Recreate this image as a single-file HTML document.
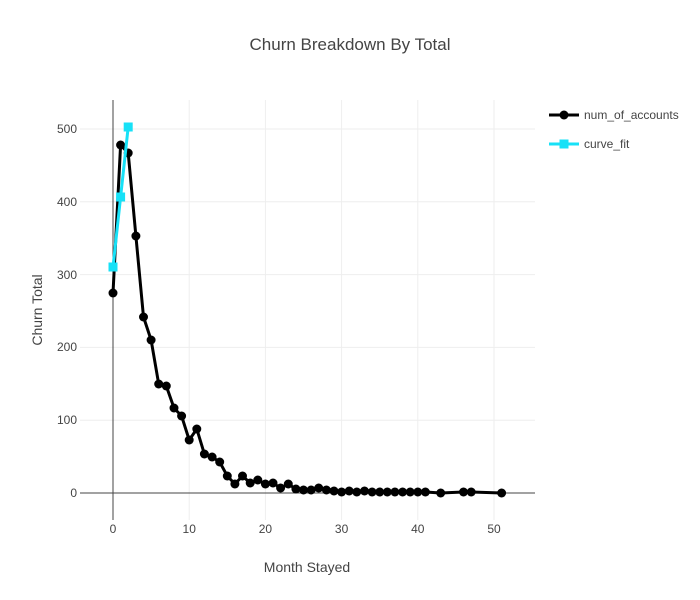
<!DOCTYPE html>
<html><head><style>body{margin:0;background:#fff}svg{display:block;font-family:"Liberation Sans","DejaVu Sans",sans-serif}</style></head><body>
<svg width="700" height="600" xmlns="http://www.w3.org/2000/svg">
<rect width="700" height="600" fill="#fff"/>
<text x="350" y="50" text-anchor="middle" font-size="17" fill="#444">Churn Breakdown By Total</text>
<g stroke="#eee" stroke-width="1">
<line x1="189.2" y1="100" x2="189.2" y2="520"/><line x1="265.4" y1="100" x2="265.4" y2="520"/><line x1="341.6" y1="100" x2="341.6" y2="520"/><line x1="417.8" y1="100" x2="417.8" y2="520"/><line x1="494" y1="100" x2="494" y2="520"/>
<line x1="80" y1="420.2" x2="535" y2="420.2"/><line x1="80" y1="347.4" x2="535" y2="347.4"/><line x1="80" y1="274.6" x2="535" y2="274.6"/><line x1="80" y1="201.8" x2="535" y2="201.8"/><line x1="80" y1="129" x2="535" y2="129"/>
</g>
<line x1="113" y1="100" x2="113" y2="520" stroke="#444" stroke-width="1"/>
<line x1="80" y1="493" x2="535" y2="493" stroke="#444" stroke-width="1"/>
<g font-size="12" fill="#444" text-anchor="middle">
<text x="113" y="533">0</text><text x="189.2" y="533">10</text><text x="265.4" y="533">20</text><text x="341.6" y="533">30</text><text x="417.8" y="533">40</text><text x="494" y="533">50</text>
</g>
<g font-size="12" fill="#444" text-anchor="end">
<text x="77" y="497">0</text><text x="77" y="424">100</text><text x="77" y="351">200</text><text x="77" y="279">300</text><text x="77" y="206">400</text><text x="77" y="133">500</text>
</g>
<text x="307" y="572" text-anchor="middle" font-size="14" fill="#444">Month Stayed</text>
<text transform="translate(42,310) rotate(-90)" text-anchor="middle" font-size="14" fill="#444">Churn Total</text>
<g id="d">
<polyline fill="none" stroke="#000" stroke-width="3" points="113,293 120.6,145 128.2,153 135.9,236 143.5,317 151.1,340 158.7,384 166.3,386 174,408 181.6,416 189.2,440 196.8,429 204.4,454 212.1,457 219.7,462 227.3,476 234.9,484 242.5,476 250.2,483 257.8,480 265.4,484 273,483 280.6,488 288.3,484 295.9,489 303.5,490 311.1,490 318.7,488 326.4,490 334,491 341.6,492 349.2,491 356.8,492 364.5,491 372.1,492 379.7,492 387.3,492 394.9,492 402.6,492 410.2,492 417.8,492 425.4,492 440.7,493 463.5,492 471.2,492 501.6,493"/>
<g fill="#000">
<circle cx="113" cy="293" r="4.5"/><circle cx="120.6" cy="145" r="4.5"/><circle cx="128.2" cy="153" r="4.5"/><circle cx="135.9" cy="236" r="4.5"/><circle cx="143.5" cy="317" r="4.5"/><circle cx="151.1" cy="340" r="4.5"/><circle cx="158.7" cy="384" r="4.5"/><circle cx="166.3" cy="386" r="4.5"/><circle cx="174" cy="408" r="4.5"/><circle cx="181.6" cy="416" r="4.5"/><circle cx="189.2" cy="440" r="4.5"/><circle cx="196.8" cy="429" r="4.5"/><circle cx="204.4" cy="454" r="4.5"/><circle cx="212.1" cy="457" r="4.5"/><circle cx="219.7" cy="462" r="4.5"/><circle cx="227.3" cy="476" r="4.5"/><circle cx="234.9" cy="484" r="4.5"/><circle cx="242.5" cy="476" r="4.5"/><circle cx="250.2" cy="483" r="4.5"/><circle cx="257.8" cy="480" r="4.5"/><circle cx="265.4" cy="484" r="4.5"/><circle cx="273" cy="483" r="4.5"/><circle cx="280.6" cy="488" r="4.5"/><circle cx="288.3" cy="484" r="4.5"/><circle cx="295.9" cy="489" r="4.5"/><circle cx="303.5" cy="490" r="4.5"/><circle cx="311.1" cy="490" r="4.5"/><circle cx="318.7" cy="488" r="4.5"/><circle cx="326.4" cy="490" r="4.5"/><circle cx="334" cy="491" r="4.5"/><circle cx="341.6" cy="492" r="4.5"/><circle cx="349.2" cy="491" r="4.5"/><circle cx="356.8" cy="492" r="4.5"/><circle cx="364.5" cy="491" r="4.5"/><circle cx="372.1" cy="492" r="4.5"/><circle cx="379.7" cy="492" r="4.5"/><circle cx="387.3" cy="492" r="4.5"/><circle cx="394.9" cy="492" r="4.5"/><circle cx="402.6" cy="492" r="4.5"/><circle cx="410.2" cy="492" r="4.5"/><circle cx="417.8" cy="492" r="4.5"/><circle cx="425.4" cy="492" r="4.5"/><circle cx="440.7" cy="493" r="4.5"/><circle cx="463.5" cy="492" r="4.5"/><circle cx="471.2" cy="492" r="4.5"/><circle cx="501.6" cy="493" r="4.5"/>
</g>
</g>
<polyline fill="none" stroke="#17e1f7" stroke-width="3" points="113,267 120.6,197 128.2,127"/>
<g fill="#17e1f7">
<rect x="108.5" y="262.5" width="9" height="9"/><rect x="116.1" y="192.5" width="9" height="9"/><rect x="123.7" y="122.5" width="9" height="9"/>
</g>
<line x1="549" y1="115" x2="579" y2="115" stroke="#000" stroke-width="3"/><circle cx="564" cy="115" r="4.5" fill="#000"/>
<text x="584" y="119" font-size="12" fill="#444">num_of_accounts</text>
<line x1="549" y1="144" x2="579" y2="144" stroke="#17e1f7" stroke-width="3"/><rect x="559.5" y="139.5" width="9" height="9" fill="#17e1f7"/>
<text x="584" y="148" font-size="12" fill="#444">curve_fit</text>
</svg>
</body></html>
